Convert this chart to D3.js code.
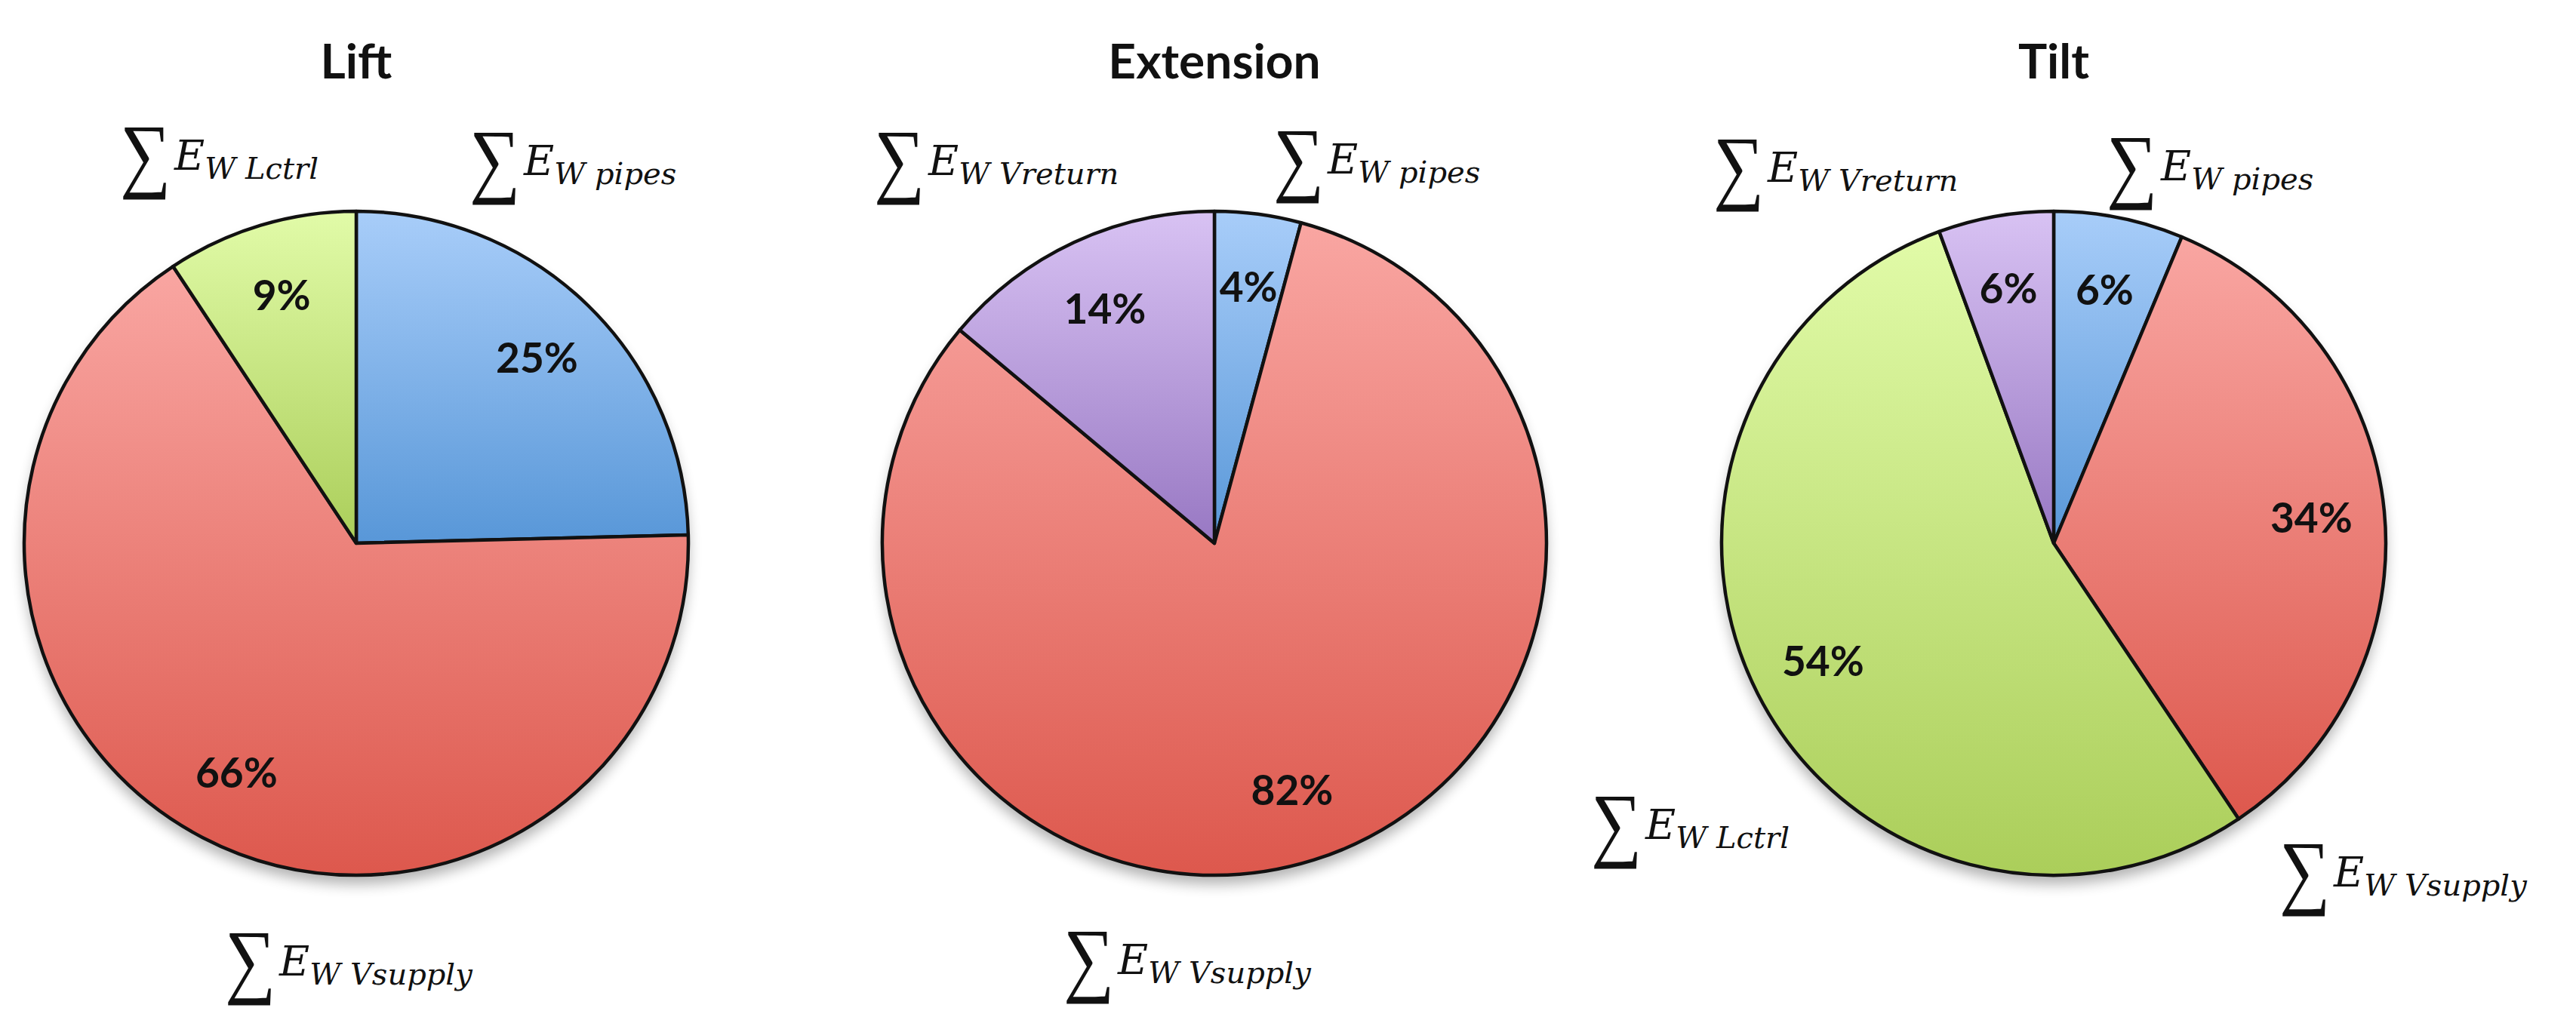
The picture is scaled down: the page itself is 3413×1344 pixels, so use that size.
<!DOCTYPE html>
<html>
<head>
<meta charset="utf-8">
<script src="https://cdn.jsdelivr.net/npm/d3@7"></script>
<style>
  body { margin: 0; background: #fff; }
</style>
</head>
<body>
<svg width="3413" height="1344"></svg>
<script>
// data
var titles = ["Lift", "Extension", "Tilt"];
var keys = ["pipes", "Vsupply", "Lctrl", "Vreturn"];
var liftValues = [24.6, 66.1, 9.3, 0];
var extensionValues = [4.2, 81.9, 0, 13.9];
var tiltValues = [6.3, 34.3, 53.8, 5.6];
var subLabels = ["W pipes", "W Vsupply", "W Lctrl", "W Vreturn"];

// layout
var svg = d3.select("svg"),
    centers = [472, 1609, 2721],
    cy = 720,
    radius = 440;

// label anchor (left of the sum sign, baseline of E) relative to pie centre
var labelOffsets = [
  [[150, -488], [-174, 573], [-313, -495], null],
  [[78, -490], [-200, 571], null, [-451, -488]],
  [[70, -481], [299, 455], [-613, 392], [-451, -479]]
];

var colorTop = d3.scaleOrdinal().domain(keys).range(["#a8cdf9", "#f9a6a2", "#e1fba8", "#d8c2f3"]);
var colorBottom = d3.scaleOrdinal().domain(keys).range(["#5897d8", "#dd584d", "#abce5a", "#9878c3"]);

var defs = svg.append("defs");
keys.forEach(function(k) {
  var lg = defs.append("linearGradient")
      .attr("id", "grad-" + k)
      .attr("x1", 0).attr("y1", 0).attr("x2", 0).attr("y2", 1);
  lg.append("stop").attr("offset", "0%").attr("stop-color", colorTop(k));
  lg.append("stop").attr("offset", "100%").attr("stop-color", colorBottom(k));
});

var shadow = defs.append("filter").attr("id", "shadow")
    .attr("x", "-20%").attr("y", "-20%").attr("width", "140%").attr("height", "140%");
shadow.append("feGaussianBlur").attr("stdDeviation", 9);

var pie = d3.pie().sort(null).value(function(d) { return d.value; });
var arc = d3.arc().innerRadius(0).outerRadius(radius);
var labelArc = d3.arc().innerRadius(343).outerRadius(343);
var pct = d3.format(".0f");

var allValues = [liftValues, extensionValues, tiltValues];

allValues.forEach(function(values, ci) {
  var data = keys.map(function(k, i) { return {key: k, value: values[i], idx: i}; });
  var g = svg.append("g").attr("transform", "translate(" + centers[ci] + "," + cy + ")");

  g.append("circle")
      .attr("cx", 0).attr("cy", 12)
      .attr("r", radius)
      .attr("fill", "#000")
      .attr("opacity", 0.3)
      .attr("filter", "url(#shadow)");

  var slices = pie(data).filter(function(d) { return d.data.value > 0; });

  g.selectAll("path.slice")
    .data(slices)
    .enter().append("path")
      .attr("class", "slice")
      .attr("d", arc)
      .attr("fill", function(d) { return "url(#grad-" + d.data.key + ")"; })
      .attr("stroke", "#111")
      .attr("stroke-width", 4.5)
      .attr("stroke-linejoin", "round");

  g.selectAll("text.pct")
    .data(slices)
    .enter().append("text")
      .attr("class", "pct")
      .attr("transform", function(d) { return "translate(" + labelArc.centroid(d) + ")"; })
      .attr("text-anchor", "middle")
      .attr("dy", "0.36em")
      .attr("font-family", "Lato, 'Open Sans', sans-serif")
      .attr("font-weight", 700)
      .attr("font-size", 55)
      .attr("fill", "#111")
      .text(function(d) { return pct(d.data.value) + "%"; });

  // title
  g.append("text")
      .attr("x", 0)
      .attr("y", 104 - cy)
      .attr("text-anchor", "middle")
      .attr("font-family", "Lato, 'Open Sans', sans-serif")
      .attr("font-weight", 700)
      .attr("font-size", 64)
      .attr("fill", "#111")
      .text(titles[ci]);

  // series labels
  slices.forEach(function(d) {
    var off = labelOffsets[ci][d.data.idx];
    if (!off) return;
    var lab = g.append("g").attr("transform", "translate(" + off[0] + "," + off[1] + ")");
    lab.append("text")
        .attr("transform", "translate(0,16) scale(0.86,1)")
        .attr("font-family", "'Liberation Serif', serif")
        .attr("font-size", 110)
        .attr("fill", "#111")
        .text("\u2211");
    var t = lab.append("text")
        .attr("x", 72)
        .attr("y", 0)
        .attr("font-family", "'DejaVu Serif', serif")
        .attr("font-style", "italic")
        .attr("fill", "#111");
    t.append("tspan").attr("font-size", 55).text("E");
    t.append("tspan").attr("font-size", 40).attr("dy", 12).text(subLabels[d.data.idx]);
  });
});
</script>
</body>
</html>
